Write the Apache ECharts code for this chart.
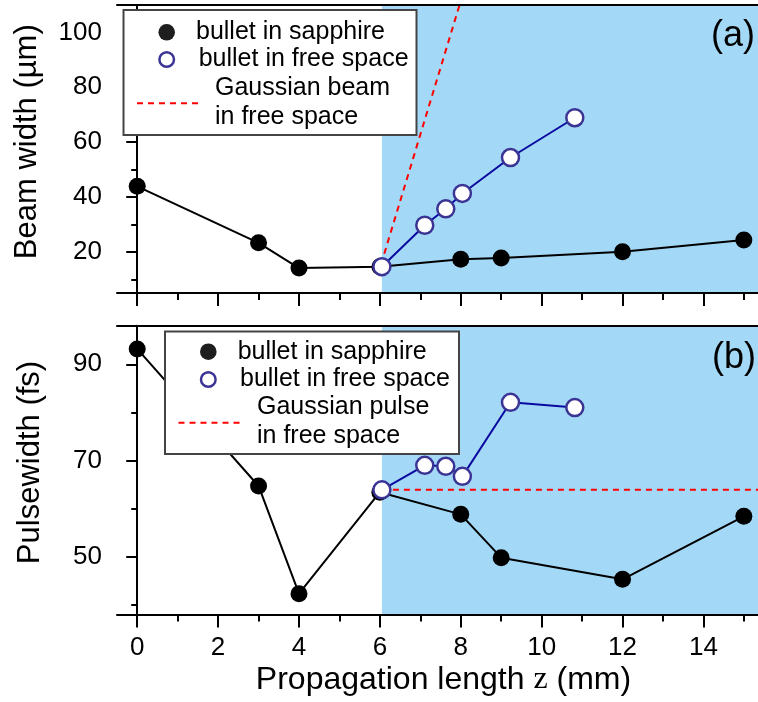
<!DOCTYPE html>
<html>
<head>
<meta charset="utf-8">
<script src="https://cdn.jsdelivr.net/npm/echarts@6/dist/echarts.min.js"></script>
<style>
  html, body { margin: 0; padding: 0; background: #fff; }
  #chart { width: 758px; height: 702px; }
</style>
</head>
<body>
<div id="chart"></div>
<script>
// ---- data -------------------------------------------------------------
// propagation length z (mm) of the sapphire samples
const zSapphire = [0, 3, 4, 6, 8, 9, 12, 15];
// beam width (um) of the light bullet inside sapphire
const widthSapphire = [43.9, 23.3, 14.1, 14.6, 17.3, 17.8, 20.0, 24.3];
// pulsewidth (fs) of the light bullet inside sapphire
const pulseSapphire = [93.2, 64.7, 42.3, 63.4, 58.8, 49.8, 45.3, 58.4];

// positions (mm) of the bullet after leaving the crystal into free space
const zFree = [6.05, 7.11, 7.63, 8.04, 9.23, 10.82];
const widthFree = [14.6, 29.7, 35.7, 41.3, 54.4, 68.9];
const pulseFree = [63.9, 69.0, 68.8, 66.7, 82.1, 81.0];

// linear-optics reference for a Gaussian beam / pulse in free space
const zGaussBeam = [6.03, 7.97];
const widthGaussBeam = [15.5, 110];
const zGaussPulse = [6.05, 15.35];
const pulseGaussPulse = [63.9, 63.9];

// free-space region (shaded)
const freeSpaceStart = 6.05;

// tick labels
const xMajorTicks = [0, 2, 4, 6, 8, 10, 12, 14];
const xMinorTicks = [1, 3, 5, 7, 9, 11, 13, 15];
const yTopMajor = [20, 40, 60, 80, 100];
const yTopMinor = [10, 30, 50, 70, 90];
const yBotMajor = [50, 70, 90];
const yBotMinor = [40, 60, 80];

// ---- layout / style ---------------------------------------------------
const X_MIN = -0.5, X_MAX = 15.35;
const FONT = '"Liberation Sans", Arial, sans-serif';
const SHADE = '#A3D9F6';
const RING = '#3B3494';
const BLUE_LINE = '#0A0AA0';
const AX = '#000';

const zip = (xs, ys) => xs.map((x, i) => [x, ys[i]]);

function xAxes(gridIndex, withLabels) {
  const base = {
    type: 'value', gridIndex, min: X_MIN, max: X_MAX, z: 6,
    splitLine: { show: false }
  };
  return [
    Object.assign({}, base, {
      position: 'bottom',
      axisLine: { show: true, lineStyle: { color: AX, width: 2 } },
      axisTick: { show: true, customValues: xMajorTicks, length: 13, lineStyle: { color: AX, width: 2 } },
      axisLabel: {
        show: withLabels, customValues: xMajorTicks, margin: 20,
        color: '#000', fontFamily: FONT, fontSize: 26
      }
    }),
    Object.assign({}, base, {
      position: 'bottom',
      axisLine: { show: false },
      axisTick: { show: true, customValues: xMinorTicks, length: 7, lineStyle: { color: AX, width: 2 } },
      axisLabel: { show: false }
    }),
    Object.assign({}, base, {
      position: 'top',
      axisLine: { show: true, lineStyle: { color: AX, width: 2 } },
      axisTick: { show: false },
      axisLabel: { show: false }
    })
  ];
}

function yAxes(gridIndex, min, max, major, minor) {
  const base = {
    type: 'value', gridIndex, min, max, z: 6, position: 'left',
    splitLine: { show: false }
  };
  return [
    Object.assign({}, base, {
      axisLine: { show: true, lineStyle: { color: AX, width: 2 } },
      axisTick: { show: true, customValues: major, length: 11, lineStyle: { color: AX, width: 2 } },
      axisLabel: {
        show: true, customValues: major, margin: 15,
        color: '#000', fontFamily: FONT, fontSize: 26
      }
    }),
    Object.assign({}, base, {
      axisLine: { show: false },
      axisTick: { show: true, customValues: minor, length: 6, lineStyle: { color: AX, width: 2 } },
      axisLabel: { show: false }
    })
  ];
}

const sapphireStyle = {
  type: 'line', symbol: 'circle', symbolSize: 17, z: 3,
  lineStyle: { color: '#000', width: 2 },
  itemStyle: { color: '#000', borderWidth: 0 }
};
const freeStyle = {
  type: 'line', symbol: 'circle', symbolSize: 17, z: 5,
  lineStyle: { color: BLUE_LINE, width: 2 },
  itemStyle: { color: '#fff', borderColor: RING, borderWidth: 2.5 }
};
const gaussStyle = {
  type: 'line', symbol: 'none', z: 4, clip: true,
  lineStyle: { color: '#FF0000', width: 2, type: [6, 5] }
};

function shade(xAxisIndex, yAxisIndex) {
  return {
    type: 'line', data: [], xAxisIndex, yAxisIndex, z: 1, silent: true,
    markArea: {
      silent: true,
      itemStyle: { color: SHADE, opacity: 1 },
      data: [[{ xAxis: freeSpaceStart }, { xAxis: X_MAX }]]
    }
  };
}

// legend drawn as a framed box with symbols and two-line captions
function legendBox(x, y, w, h, rows) {
  const els = [{
    type: 'rect', shape: { x, y, width: w, height: h }, z: 20,
    style: { fill: '#fff', stroke: '#444', lineWidth: 2 }
  }];
  rows.forEach(r => {
    if (r.kind === 'dot') {
      els.push({ type: 'circle', shape: { cx: r.cx, cy: r.cy, r: 8.3 }, z: 21, style: { fill: '#1e1e1e' } });
    } else if (r.kind === 'ring') {
      els.push({ type: 'circle', shape: { cx: r.cx, cy: r.cy, r: 7.3 }, z: 21,
        style: { fill: '#fff', stroke: RING, lineWidth: 2.5 } });
    } else if (r.kind === 'dash') {
      els.push({ type: 'line', shape: { x1: r.x1, y1: r.cy, x2: r.x2, y2: r.cy }, z: 21,
        style: { stroke: '#FF0000', lineWidth: 2, lineDash: [6, 5] } });
    }
    r.texts.forEach(t => {
      els.push({ type: 'text', x: t.x, y: t.y, z: 21,
        style: { text: t.s, fill: '#000', font: '25px ' + FONT, textVerticalAlign: 'middle', textAlign: 'left' } });
    });
  });
  return els;
}

const chart = echarts.init(document.getElementById('chart'), null, { renderer: 'canvas' });

const option = {
  animation: false,
  backgroundColor: '#fff',
  grid: [
    { left: 117, top: 5, width: 643, height: 288 },
    { left: 117, top: 325.8, width: 643, height: 288.6 }
  ],
  xAxis: [].concat(xAxes(0, false), xAxes(1, true)),
  yAxis: [].concat(
    yAxes(0, 5, 110, yTopMajor, yTopMinor),
    yAxes(1, 38, 98, yBotMajor, yBotMinor)
  ),
  series: [
    shade(0, 0),
    Object.assign({}, sapphireStyle, { name: 'bullet in sapphire', xAxisIndex: 0, yAxisIndex: 0, data: zip(zSapphire, widthSapphire) }),
    Object.assign({}, gaussStyle, { name: 'Gaussian beam in free space', xAxisIndex: 0, yAxisIndex: 0, data: zip(zGaussBeam, widthGaussBeam) }),
    Object.assign({}, freeStyle, { name: 'bullet in free space', xAxisIndex: 0, yAxisIndex: 0, data: zip(zFree, widthFree) }),

    shade(3, 2),
    Object.assign({}, sapphireStyle, { name: 'bullet in sapphire', xAxisIndex: 3, yAxisIndex: 2, data: zip(zSapphire, pulseSapphire) }),
    Object.assign({}, gaussStyle, { name: 'Gaussian pulse in free space', xAxisIndex: 3, yAxisIndex: 2, data: zip(zGaussPulse, pulseGaussPulse) }),
    Object.assign({}, freeStyle, { name: 'bullet in free space', xAxisIndex: 3, yAxisIndex: 2, data: zip(zFree, pulseFree) })
  ],
  graphic: [].concat(
    legendBox(123.5, 10, 293, 125, [
      { kind: 'dot', cx: 166.7, cy: 32.3, texts: [{ x: 196, y: 32.3, s: 'bullet in sapphire' }] },
      { kind: 'ring', cx: 166.7, cy: 59.5, texts: [{ x: 198.7, y: 59.5, s: 'bullet in free space' }] },
      { kind: 'dash', x1: 137, x2: 200, cy: 103.3, texts: [
        { x: 215, y: 88, s: 'Gaussian beam' }, { x: 215, y: 117, s: 'in free space' }] }
    ]),
    legendBox(165, 331.5, 294, 122.5, [
      { kind: 'dot', cx: 208.3, cy: 351.7, texts: [{ x: 237.7, y: 351.7, s: 'bullet in sapphire' }] },
      { kind: 'ring', cx: 208.3, cy: 379.5, texts: [{ x: 240, y: 379.5, s: 'bullet in free space' }] },
      { kind: 'dash', x1: 178.5, x2: 241.7, cy: 422.7, texts: [
        { x: 257, y: 407.3, s: 'Gaussian pulse' }, { x: 257, y: 436, s: 'in free space' }] }
    ]),
    [
      { type: 'text', x: 733, y: 36.5, z: 21,
        style: { text: '(a)', fill: '#000', font: '36px ' + FONT, textAlign: 'center', textVerticalAlign: 'middle' } },
      { type: 'text', x: 734, y: 358, z: 21,
        style: { text: '(b)', fill: '#000', font: '36px ' + FONT, textAlign: 'center', textVerticalAlign: 'middle' } },
      { type: 'text', x: 27.5, y: 141.7, rotation: Math.PI / 2, z: 21,
        style: { text: 'Beam width (µm)', fill: '#000', font: '31px ' + FONT, textAlign: 'center', textVerticalAlign: 'middle' } },
      { type: 'text', x: 30, y: 462.5, rotation: Math.PI / 2, z: 21,
        style: { text: 'Pulsewidth (fs)', fill: '#000', font: '31px ' + FONT, textAlign: 'center', textVerticalAlign: 'middle' } },
      { type: 'text', x: 443.5, y: 680, z: 21,
        style: {
          text: 'Propagation length {z|z} (mm)',
          fill: '#000', font: '32px ' + FONT, textAlign: 'center', textVerticalAlign: 'middle',
          rich: { z: { fontFamily: '"Liberation Serif", serif', fontSize: 32, fill: '#000' } }
        } }
    ]
  )
};

chart.setOption(option);
</script>
</body>
</html>
